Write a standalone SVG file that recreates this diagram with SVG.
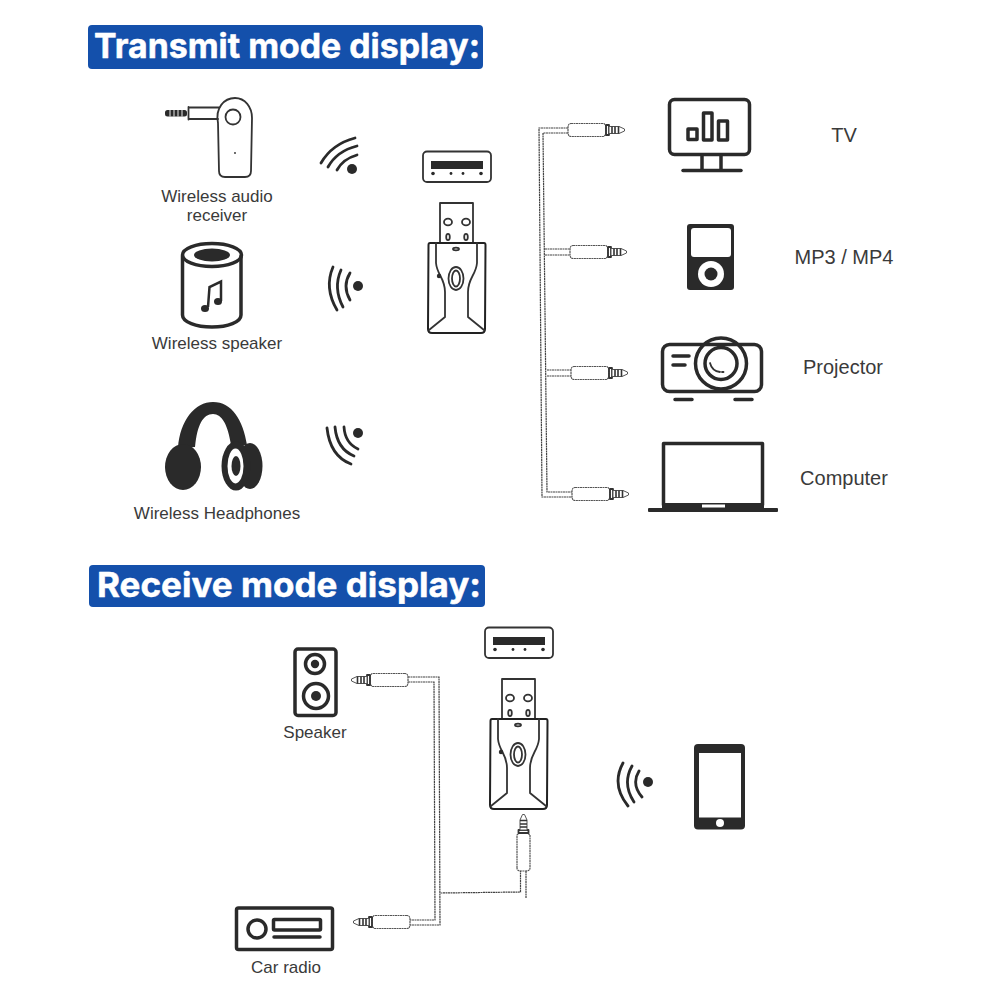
<svg xmlns="http://www.w3.org/2000/svg" xmlns:xlink="http://www.w3.org/1999/xlink" width="1000" height="1000" viewBox="0 0 1000 1000">
<style>
  .banner { fill: #1450ab; }
  .title { font: bold 34px Inter, "Liberation Sans", Arial, sans-serif; fill: #fff; stroke: #fff; stroke-width: 0.5; stroke-linejoin: round; }
  .lbl { font: 17px "Liberation Sans", Arial, sans-serif; fill: #3a3a3a; text-anchor: middle; }
  .lbl-lg { font-size: 20px; }
  .ink { fill: none; stroke: #2a2a2a; stroke-width: 3.5; stroke-linecap: round; stroke-linejoin: round; }
  .thin { fill: none; stroke: #333; stroke-width: 1.8; stroke-linecap: round; stroke-linejoin: round; }
  .solid { fill: #2a2a2a; }
  .wave { fill: none; stroke: #2a2a2a; stroke-width: 2.8; stroke-linecap: round; }
  .wire { fill: none; stroke: #444; stroke-width: 1.2; stroke-dasharray: 2 0.5; }
  .plug { fill: #fff; stroke: #555; stroke-width: 1.2; stroke-dasharray: 2 0.5; }
</style>
<defs>
  <!-- USB adapter with its socket face, drawn at the position of the upper copy -->
  <g id="adapter">
    <rect class="thin" x="423" y="151.500" width="68" height="30.500" rx="4" stroke-width="1.4"/>
    <rect class="solid" x="431" y="161" width="52" height="8"/>
    <circle class="solid" cx="433" cy="173.500" r="1.800"/>
    <circle class="solid" cx="451" cy="173.500" r="1.400"/>
    <circle class="solid" cx="463" cy="173.500" r="1.400"/>
    <circle class="solid" cx="481" cy="173.500" r="1.800"/>
    <rect class="thin" x="440" y="203" width="33" height="40"/>
    <ellipse class="thin" cx="448" cy="222" rx="4" ry="3.400"/>
    <ellipse class="thin" cx="466" cy="222" rx="4" ry="3.400"/>
    <ellipse class="thin" cx="448" cy="237" rx="1.800" ry="3.200"/>
    <ellipse class="thin" cx="466" cy="237" rx="1.800" ry="3.200"/>
    <path d="M430 243H484Q485.500 243 485.500 245L485 329Q485 333 481 333H432Q428 333 428 329L428.500 245Q428.500 243 430 243Z" fill="#fff" stroke="#222" stroke-width="2"/>
    <path class="thin" d="M436 243V263C437 275 445 278 445 292V317L429 330"/>
    <path class="thin" d="M477 243V263C476 275 468 278 468 292V317L484 330"/>
    <ellipse class="thin" cx="456" cy="278.500" rx="7.500" ry="11.500"/>
    <ellipse class="thin" cx="456" cy="278.500" rx="4" ry="8"/>
    <ellipse class="thin" cx="456" cy="249" rx="3" ry="1.300" stroke-width="1.200"/>
    <circle class="solid" cx="439" cy="276" r="2.200"/>
  </g>
  <!-- 3.5 mm jack, tip pointing along +x, barrel starting at the origin -->
  <g id="jack">
    <path class="plug" d="M3 -6.500H36L38 -4V4L36 6.500H3Q0 6.500 0 2V-2Q0 -6.500 3 -6.500Z"/>
    <rect class="thin" x="38" y="-5" width="3" height="10" stroke-width="1.400"/>
    <path d="M41 -3.500H51L56.500 -1V1L51 3.500H41Z" fill="#fff" stroke="#555" stroke-width="1"/>
    <path d="M44 -3.500V3.500M47 -3.500V3.500M50.500 -3.500V3.500" stroke="#333" stroke-width="1.600"/>
  </g>
</defs>

<g id="title-transmit">
  <rect class="banner" x="88" y="25" width="395" height="44" rx="4"/>
  <text class="title" x="94" y="58" textLength="386" lengthAdjust="spacingAndGlyphs">Transmit mode display:</text>
</g>
<g id="title-receive">
  <rect class="banner" x="89" y="565" width="396" height="42" rx="4"/>
  <text class="title" x="97" y="597" textLength="384" lengthAdjust="spacingAndGlyphs">Receive mode display:</text>
</g>

<g id="connectors">
  <!-- transmit side cable tree -->
  <path class="wire" d="M568 128H539L542 497H573"/>
  <path class="wire" d="M568 133H543L547 492H573"/>
  <path class="wire" d="M545 249H570M545 255H570"/>
  <path class="wire" d="M547 370H572M547 376H572"/>
  <!-- receive side cable tree -->
  <path class="wire" d="M408 677H439L440 925H410"/>
  <path class="wire" d="M408 682H434L435 920H410"/>
  <path class="wire" d="M440.500 893L520.500 892V871M526 871V898"/>
</g>

<g id="wireless-audio-receiver">
  <path class="thin" d="M189 107.500H219M189 119H218M188.500 107V119.500" stroke-width="2"/>
  <rect class="solid" x="165" y="110" width="22" height="6.500" rx="2.500"/>
  <path d="M170 110V116.500M174 110V116.500M178 110V116.500M182 110V116.500" stroke="#fff" stroke-width="0.900"/>
  <path class="thin" d="M218 123C215 108 224 98 235 98C245 98 252 107 252 118L251 171Q251 177 245 177H225Q219 177 219 171Z" fill="#fff" stroke-width="2.200"/>
  <circle class="thin" cx="233" cy="117" r="7.500"/>
  <circle class="solid" cx="235" cy="153" r="0.900"/>
  <text class="lbl" x="217" y="202">Wireless audio</text>
  <text class="lbl" x="217" y="221">receiver</text>
</g>

<g id="wireless-speaker">
  <path class="ink" d="M182.500 256V315C182.500 322 196 327 212 327C228 327 241 322 241 315V256" stroke-width="3"/>
  <ellipse class="ink" cx="212" cy="255" rx="29.500" ry="11.500" stroke-width="3"/>
  <ellipse class="solid" cx="212" cy="255" rx="18" ry="6.500"/>
  <ellipse class="solid" cx="205" cy="308.500" rx="4" ry="3.600"/>
  <ellipse class="solid" cx="218" cy="301.500" rx="4" ry="3.600"/>
  <path d="M208 307L209.500 287L221 281.500V301" fill="none" stroke="#2a2a2a" stroke-width="2.500"/>
  <text class="lbl" x="217" y="349">Wireless speaker</text>
</g>

<g id="wireless-headphones">
  <path class="solid" d="M178 448C180 420 195 402 213 402C232 402 243 420 247 445L231 445C228 425 222 414 213 414C203 414 197 425 195 447Z"/>
  <ellipse class="solid" cx="183" cy="467" rx="18" ry="23"/>
  <ellipse class="solid" cx="250" cy="466" rx="12.500" ry="23"/>
  <ellipse class="solid" cx="236" cy="466" rx="14.500" ry="24.500"/>
  <ellipse cx="235.500" cy="466" rx="8" ry="17.500" fill="#fff"/>
  <ellipse class="solid" cx="236" cy="466" rx="4.500" ry="10"/>
  <text class="lbl" x="217" y="519">Wireless Headphones</text>
</g>

<g id="signal-receiver">
  <circle class="solid" cx="352" cy="169" r="5"/>
  <path class="wave" d="M337 170Q343 159 357 155M328 167Q337 151 357 146M321 163Q332 144 355 138"/>
</g>
<g id="signal-speaker">
  <circle class="solid" cx="358" cy="286" r="5"/>
  <path class="wave" d="M350 273Q342 286 350 300M341 270Q333 288 343 307M333 267Q324 288 337 310"/>
</g>
<g id="signal-headphones">
  <circle class="solid" cx="358" cy="433" r="5"/>
  <path class="wave" d="M344 427Q345 443 358 449M335 427Q337 449 354 456M327 428Q330 456 351 464"/>
</g>

<g id="adapter-transmit"><use xlink:href="#adapter" href="#adapter"/></g>

<g id="jack-tv"><use href="#jack" xlink:href="#jack" transform="translate(568 130)"/></g>
<g id="jack-mp3"><use href="#jack" xlink:href="#jack" transform="translate(570 252)"/></g>
<g id="jack-projector"><use href="#jack" xlink:href="#jack" transform="translate(571 373)"/></g>
<g id="jack-computer"><use href="#jack" xlink:href="#jack" transform="translate(572 494)"/></g>

<g id="tv">
  <rect class="ink" x="669.500" y="99.500" width="80" height="55" rx="5"/>
  <rect class="ink" x="688" y="129" width="9" height="10.500" stroke-width="3"/>
  <rect class="ink" x="703.500" y="113" width="8.500" height="27" stroke-width="3"/>
  <rect class="ink" x="718.500" y="121" width="9" height="19" stroke-width="3"/>
  <path class="ink" d="M702 156V169M721 156V169" stroke-width="3"/>
  <path class="ink" d="M683 170.500H741" stroke-width="5"/>
  <text class="lbl lbl-lg" x="844" y="142">TV</text>
</g>

<g id="mp3">
  <rect class="solid" x="687" y="224" width="47" height="66" rx="3"/>
  <rect x="691" y="228" width="40" height="29" rx="3" fill="#fff"/>
  <circle cx="711" cy="274" r="13" fill="#fff"/>
  <circle class="solid" cx="711" cy="274" r="6.500"/>
  <text class="lbl lbl-lg" x="844" y="264">MP3 / MP4</text>
</g>

<g id="projector">
  <rect class="ink" x="662.500" y="344.500" width="99" height="47" rx="7"/>
  <circle class="ink" cx="721" cy="363.500" r="25.500" fill="#fff"/>
  <circle class="ink" cx="721" cy="363.500" r="16"/>
  <path class="thin" d="M710 363Q712 371 720 372M722 372L723.500 372"/>
  <path class="ink" d="M673 356H689M673 365H685"/>
  <path class="ink" d="M675 399.500H692M735 399.500H752"/>
  <text class="lbl lbl-lg" x="843" y="374">Projector</text>
</g>

<g id="computer">
  <path class="ink" d="M663.500 505V443.500H762.500V505" stroke-width="3" stroke-linecap="butt"/>
  <rect class="solid" x="662" y="503" width="102" height="6"/>
  <rect class="solid" x="648" y="508" width="130" height="4" rx="1"/>
  <rect x="702" y="504.500" width="23" height="3" fill="#fff"/>
  <text class="lbl lbl-lg" x="844" y="485">Computer</text>
</g>

<g id="adapter-receive"><use href="#adapter" xlink:href="#adapter" transform="translate(62 476)"/></g>

<g id="jack-speaker"><use href="#jack" xlink:href="#jack" transform="translate(408 680) scale(-1 1)"/></g>
<g id="jack-radio"><use href="#jack" xlink:href="#jack" transform="translate(410 922) scale(-1 1)"/></g>
<g id="jack-adapter"><use href="#jack" xlink:href="#jack" transform="translate(523.500 871) rotate(-90)"/></g>

<g id="speaker">
  <rect class="ink" x="295" y="649" width="41" height="66.500" rx="3" stroke-width="3"/>
  <circle class="ink" cx="315" cy="664" r="9.500" stroke-width="2.600"/>
  <circle class="solid" cx="315" cy="664" r="4.200"/>
  <circle class="ink" cx="316" cy="696" r="12.500" stroke-width="2.800"/>
  <circle class="solid" cx="316" cy="696" r="5"/>
  <text class="lbl" x="315" y="738">Speaker</text>
</g>

<g id="car-radio">
  <rect class="ink" x="236.500" y="908" width="96" height="41.500" rx="2" stroke-width="3"/>
  <circle class="ink" cx="257" cy="929" r="9" stroke-width="3"/>
  <rect class="ink" x="273.500" y="919.500" width="47" height="10.500" rx="1" stroke-width="3"/>
  <path class="ink" d="M274 937H320" stroke-width="2.400"/>
  <text class="lbl" x="286" y="973">Car radio</text>
</g>

<g id="signal-phone">
  <circle class="solid" cx="648" cy="782" r="5"/>
  <path class="wave" d="M639 771Q631 784 642 797M632 766Q622 784 634 802M623 763Q611 785 628 806"/>
</g>

<g id="phone">
  <rect class="solid" x="694" y="744" width="51" height="85.500" rx="4"/>
  <rect x="699" y="753" width="42" height="64.500" fill="#fff"/>
  <circle cx="720" cy="823" r="4" fill="#fff"/>
</g>
</svg>
